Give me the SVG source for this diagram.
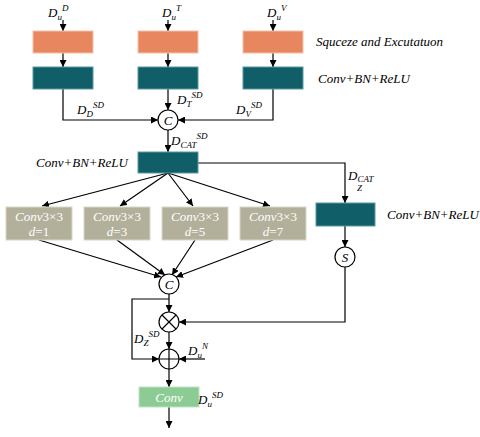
<svg xmlns="http://www.w3.org/2000/svg" width="480" height="437" viewBox="0 0 480 437">
<defs>
<marker id="ah" viewBox="0 0 10 10" refX="10" refY="5" markerWidth="7" markerHeight="7" orient="auto" markerUnits="userSpaceOnUse"><path d="M0,0 L10,5 L0,10 z" fill="#000"/></marker>
<style>
.se{fill:#E8875F;stroke:#F3C2A8;stroke-width:1}
.tl{fill:#0F5E68;stroke:#5A9AA2;stroke-width:1}
.gr{fill:#B2B09A;stroke:#D8D6C8;stroke-width:1}
.gn{fill:#8CCB94;stroke:#BFE3C4;stroke-width:1}
.ln{fill:none;stroke:#000;stroke-width:1.2}
.ar{fill:none;stroke:#000;stroke-width:1.2;marker-end:url(#ah)}
.ci{fill:#fff;stroke:#000;stroke-width:1.2}
text{font-family:'Liberation Serif','Times New Roman','DejaVu Serif',serif}
.t{font-style:italic;font-size:13px;fill:#000}
.s{font-style:italic;font-size:9px;fill:#000}
.w{font-size:13px;fill:#fff;text-anchor:middle}
</style>
</defs>
<rect width="480" height="437" fill="#fff"/>
<g id="connectors">
<line class="ar" x1="63" y1="20" x2="63" y2="31"/>
<line class="ar" x1="168" y1="20" x2="168" y2="31"/>
<line class="ar" x1="273" y1="20" x2="273" y2="31"/>
<line class="ar" x1="63" y1="53" x2="63" y2="67"/>
<line class="ar" x1="168" y1="53" x2="168" y2="67"/>
<line class="ar" x1="273" y1="53" x2="273" y2="67"/>
<polyline class="ar" points="63,89 63,120 158,120"/>
<line class="ar" x1="168" y1="89" x2="168" y2="110"/>
<polyline class="ar" points="273,89 273,120 178,120"/>
<line class="ar" x1="168" y1="130" x2="168" y2="152"/>
<polyline class="ar" points="198,163 345,163 345,203"/>
<line class="ar" x1="168" y1="173" x2="42" y2="206"/>
<line class="ar" x1="168" y1="173" x2="120" y2="206"/>
<line class="ar" x1="168" y1="173" x2="193" y2="206"/>
<line class="ar" x1="168" y1="173" x2="270" y2="206"/>
<line class="ar" x1="39" y1="240" x2="161" y2="277"/>
<line class="ar" x1="117" y1="240" x2="165" y2="275"/>
<line class="ar" x1="195" y1="240" x2="172" y2="275"/>
<line class="ar" x1="273" y1="240" x2="176" y2="277"/>
<line class="ar" x1="345" y1="226" x2="345" y2="247"/>
<polyline class="ar" points="345,267 345,322 179,322"/>
<line class="ar" x1="169" y1="294" x2="169" y2="312"/>
<polyline class="ar" points="169,299 132,299 132,359 159,359"/>
<line class="ar" x1="169" y1="332" x2="169" y2="349"/>
<line class="ar" x1="205" y1="359" x2="179" y2="359"/>
<line class="ar" x1="169" y1="369" x2="169" y2="387"/>
<line class="ar" x1="169" y1="407" x2="169" y2="428"/>
</g>
<g id="se1"><rect class="se" x="33" y="31" width="60" height="22"/></g>
<g id="se2"><rect class="se" x="138" y="31" width="60" height="22"/></g>
<g id="se3"><rect class="se" x="243" y="31" width="60" height="22"/></g>
<g id="cbr1"><rect class="tl" x="33" y="67" width="60" height="22"/></g>
<g id="cbr2"><rect class="tl" x="138" y="67" width="60" height="22"/></g>
<g id="cbr3"><rect class="tl" x="243" y="67" width="60" height="22"/></g>
<g id="concat1"><circle class="ci" cx="168" cy="120" r="10"/><text class="t" x="168" y="124.5" text-anchor="middle" font-size="12">C</text></g>
<g id="cbr4"><rect class="tl" x="138" y="152" width="60" height="21"/></g>
<g id="cbr5"><rect class="tl" x="316" y="203" width="59" height="23"/></g>
<g id="g1"><rect class="gr" x="6" y="207" width="66" height="33"/><text class="w" x="39" y="221"><tspan font-style="italic">Conv</tspan>3×3</text><text class="w" x="39" y="236"><tspan font-style="italic">d</tspan>=1</text></g>
<g id="g2"><rect class="gr" x="84" y="207" width="66" height="33"/><text class="w" x="117" y="221"><tspan font-style="italic">Conv</tspan>3×3</text><text class="w" x="117" y="236"><tspan font-style="italic">d</tspan>=3</text></g>
<g id="g3"><rect class="gr" x="162" y="207" width="66" height="33"/><text class="w" x="195" y="221"><tspan font-style="italic">Conv</tspan>3×3</text><text class="w" x="195" y="236"><tspan font-style="italic">d</tspan>=5</text></g>
<g id="g4"><rect class="gr" x="240" y="207" width="66" height="33"/><text class="w" x="273" y="221"><tspan font-style="italic">Conv</tspan>3×3</text><text class="w" x="273" y="236"><tspan font-style="italic">d</tspan>=7</text></g>
<g id="sig"><circle class="ci" cx="345" cy="257" r="10"/><text class="t" x="345" y="261.5" text-anchor="middle" font-size="12">S</text></g>
<g id="concat2"><circle class="ci" cx="169" cy="284" r="10"/><text class="t" x="169" y="288.5" text-anchor="middle" font-size="12">C</text></g>
<g id="mul"><circle class="ci" cx="169" cy="322" r="10"/><path class="ln" d="M162,315 L176,329 M176,315 L162,329"/></g>
<g id="add"><circle class="ci" cx="169" cy="359" r="10"/><path class="ln" d="M159,359 L179,359 M169,349 L169,369"/></g>
<g id="conv"><rect class="gn" x="139" y="387" width="60" height="20"/><text class="w" x="169" y="401.5" font-style="italic">Conv</text></g>
<g id="labels">
<text class="t" x="48" y="17">D<tspan class="s" dy="3">u</tspan><tspan class="s" dy="-9">D</tspan></text>
<text class="t" x="162" y="17">D<tspan class="s" dy="3">u</tspan><tspan class="s" dy="-9">T</tspan></text>
<text class="t" x="267" y="17">D<tspan class="s" dy="3">u</tspan><tspan class="s" dy="-9">V</tspan></text>
<text class="t" x="316" y="46">Squceze and Excutatuon</text>
<text class="t" x="318" y="83">Conv+BN+ReLU</text>
<text class="t" x="77" y="114">D<tspan class="s" dy="3">D</tspan><tspan class="s" dy="-9">SD</tspan></text>
<text class="t" x="177" y="104">D<tspan class="s" dy="3">T</tspan><tspan class="s" dy="-9">SD</tspan></text>
<text class="t" x="236" y="114">D<tspan class="s" dy="3">V</tspan><tspan class="s" dy="-9">SD</tspan></text>
<text class="t" x="171" y="145">D<tspan class="s" dy="3">CAT</tspan><tspan class="s" dy="-9">SD</tspan></text>
<text class="t" x="36" y="167">Conv+BN+ReLU</text>
<text class="t" x="348" y="180">D<tspan class="s" dy="2">CAT</tspan></text>
<text class="s" x="357" y="191">Z</text>
<text class="t" x="387" y="219">Conv+BN+ReLU</text>
<text class="t" x="134" y="343">D<tspan class="s" dy="3">Z</tspan><tspan class="s" dy="-9">SD</tspan></text>
<text class="t" x="188" y="355">D<tspan class="s" dy="3">u</tspan><tspan class="s" dy="-9">N</tspan></text>
<text class="t" x="198" y="404">D<tspan class="s" dy="3">u</tspan><tspan class="s" dy="-9">SD</tspan></text>
</g>
</svg>
